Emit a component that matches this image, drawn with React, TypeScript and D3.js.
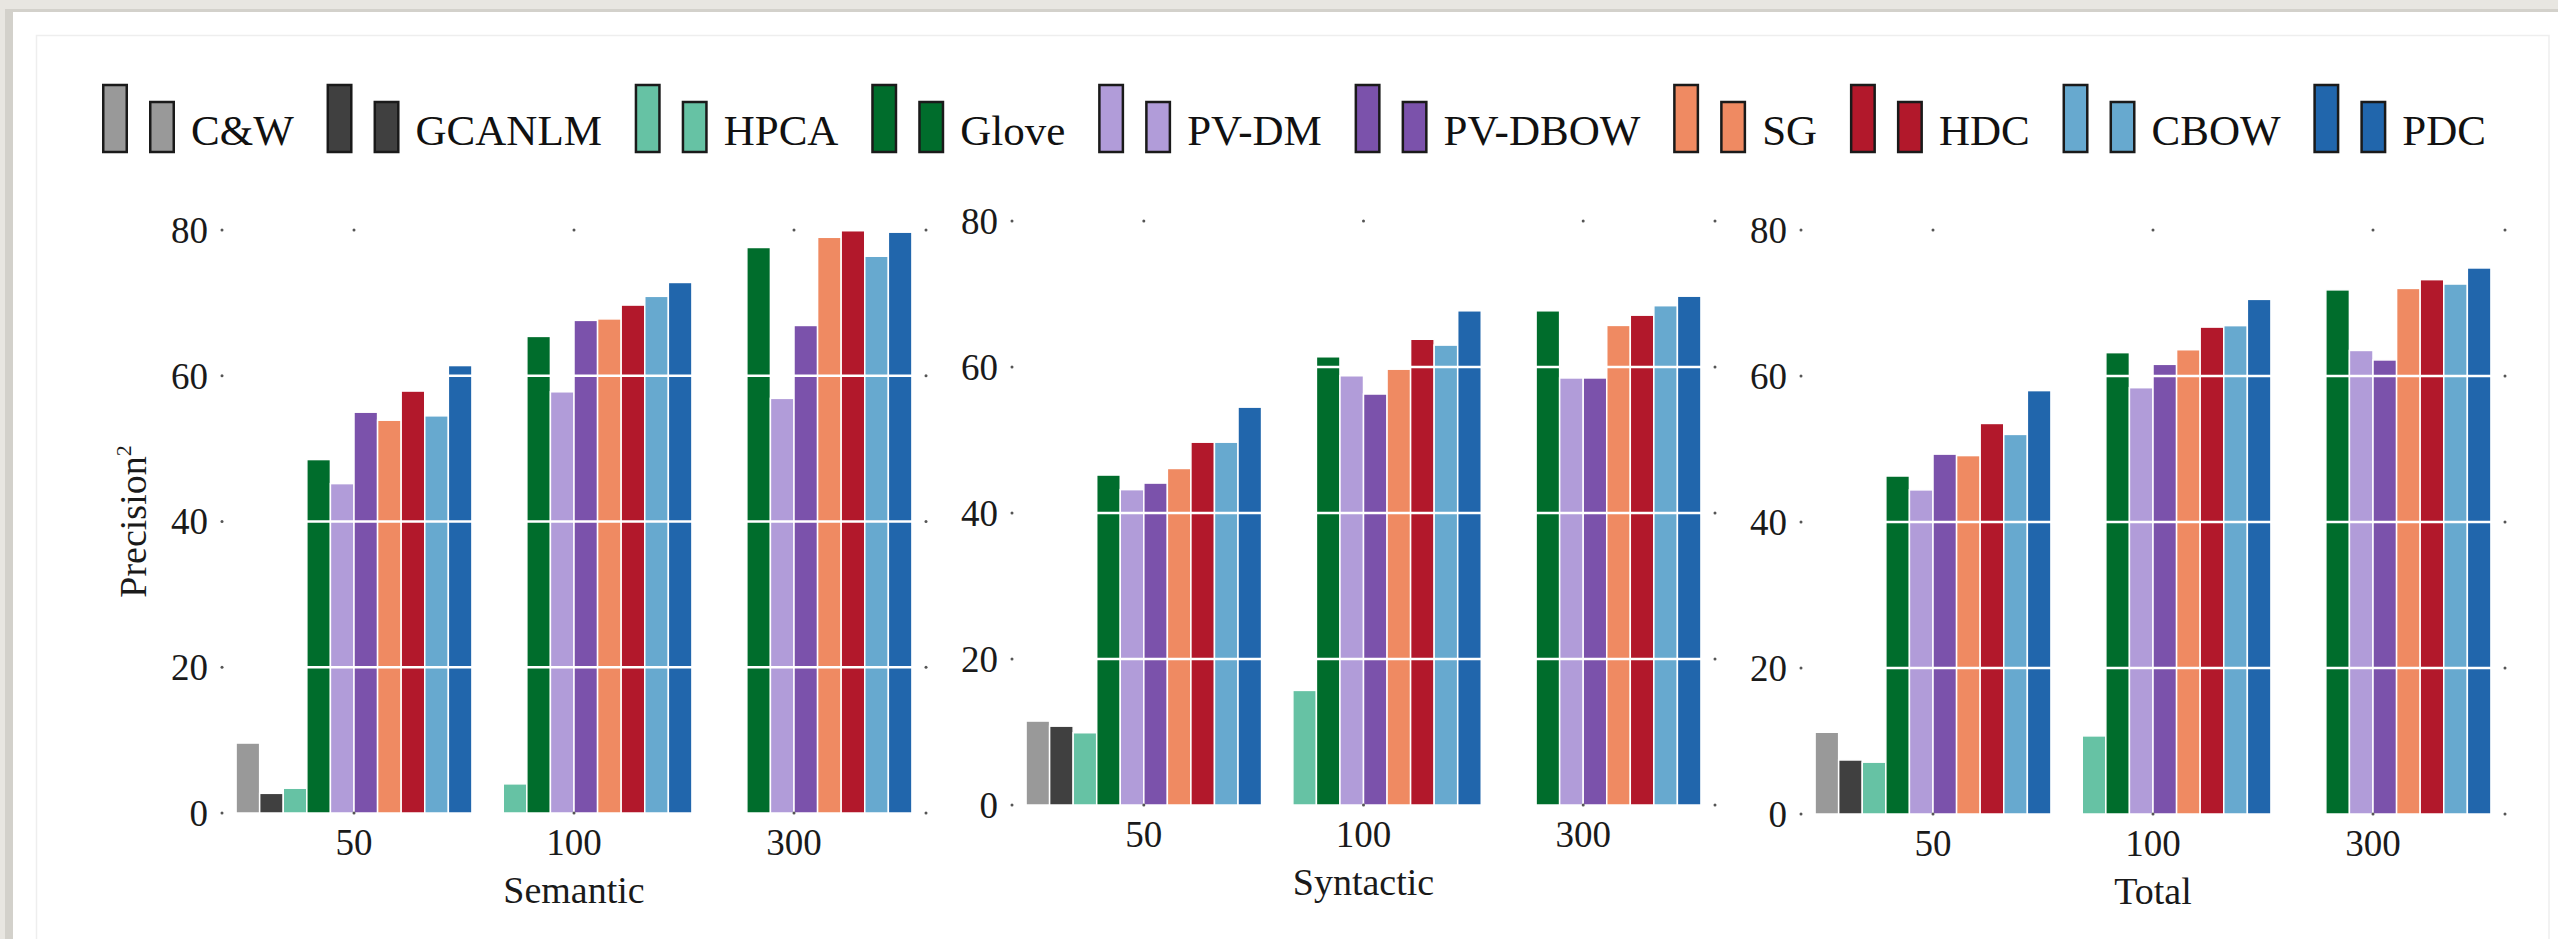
import React, { useEffect, useRef } from 'react'
import * as d3 from 'd3'

const methods = ['C&W', 'GCANLM', 'HPCA', 'Glove', 'PV-DM', 'PV-DBOW', 'SG', 'HDC', 'CBOW', 'PDC']
const methodColors = ['#999999', '#404040', '#66c2a4', '#006d2c', '#b19cd9', '#7b52ab', '#ef8a62', '#b2182b', '#67a9cf', '#2166ac']
const dims = ['50', '100', '300']
const yTicks = [0, 20, 40, 60, 80]
const gridValues = [20, 40, 60]

// null = method has no result for that vector size
const semantic50 = [9.6, 2.7, 3.4, 48.5, 45.2, 55.0, 53.9, 57.9, 54.5, 61.4]
const semantic100 = [null, null, 4.0, 65.4, 57.8, 67.6, 67.8, 69.7, 70.9, 72.8]
const semantic300 = [null, null, null, 77.6, 56.9, 66.9, 79.0, 79.9, 76.4, 79.7]
const syntactic50 = [11.5, 10.8, 9.9, 45.2, 43.2, 44.1, 46.1, 49.7, 49.7, 54.5]
const syntactic100 = [null, null, 15.7, 61.4, 58.8, 56.3, 59.7, 63.8, 63.0, 67.7]
const syntactic300 = [null, null, null, 67.7, 58.5, 58.5, 65.7, 67.1, 68.4, 69.7]
const total50 = [11.2, 7.4, 7.1, 46.3, 44.4, 49.3, 49.1, 53.5, 52.0, 58.0]
const total100 = [null, null, 10.7, 63.2, 58.4, 61.6, 63.6, 66.7, 66.9, 70.5]
const total300 = [null, null, null, 71.8, 63.5, 62.2, 72.0, 73.2, 72.6, 74.8]

const panelTitles = ['Semantic', 'Syntactic', 'Total']
const panelValues = [
  [semantic50, semantic100, semantic300],
  [syntactic50, syntactic100, syntactic300],
  [total50, total100, total300],
]

const W = 2558
const H = 939
const FONT = "'Liberation Serif', 'Times New Roman', serif"

// panel frames (px), the three plots are not quite aligned in the original
const panelLeft = [222, 1012, 1801]
const panelRight = [926, 1715, 2505]
const panelBottom = [813, 805, 814]
const panelTop = [230, 221, 230]

export default function App() {
  const svgRef = useRef<SVGSVGElement>(null)

  useEffect(() => {
    document.body.style.margin = '0'
    const svg = d3.select(svgRef.current)
    svg.selectAll('*').remove()

    // page background and card
    svg.append('rect').attr('width', W).attr('height', H).attr('fill', '#e8e6e1')
    svg.append('rect').attr('x', 5).attr('y', 9).attr('width', W).attr('height', H).attr('fill', '#d3d1cb')
    svg.append('rect').attr('x', 13).attr('y', 12).attr('width', W).attr('height', H).attr('fill', '#fff')
    svg
      .append('rect')
      .attr('x', 36.5)
      .attr('y', 35.5)
      .attr('width', 2549 - 36.5)
      .attr('height', H)
      .attr('fill', 'none')
      .attr('stroke', '#eeeeee')
      .attr('stroke-width', 1.5)

    // legend
    const items = svg
      .append('g')
      .selectAll('g')
      .data(methods)
      .join('g')
    items
      .append('rect')
      .attr('x', 1.25)
      .attr('y', 85)
      .attr('width', 23.5)
      .attr('height', 67)
      .attr('fill', (d, i) => methodColors[i])
      .attr('stroke', '#1a1a1a')
      .attr('stroke-width', 2.5)
    items
      .append('rect')
      .attr('x', 48.25)
      .attr('y', 102)
      .attr('width', 23.5)
      .attr('height', 50)
      .attr('fill', (d, i) => methodColors[i])
      .attr('stroke', '#1a1a1a')
      .attr('stroke-width', 2.5)
    items
      .append('text')
      .attr('x', 89)
      .attr('y', 145)
      .attr('font-family', FONT)
      .attr('font-size', 43)
      .attr('fill', '#111')
      .text((d) => d)

    const widths = items
      .select('text')
      .nodes()
      .map((n: any) => n.getComputedTextLength())
    const legendStart = 102
    const legendEnd = 2486
    const gap = (legendEnd - legendStart - 89 * methods.length - d3.sum(widths)) / (methods.length - 1)
    let lx = legendStart
    items.attr('transform', (d, i) => {
      const t = `translate(${lx},0)`
      lx += 89 + widths[i] + gap
      return t
    })

    panelTitles.forEach((title, p) => {
      const x = d3.scalePoint().domain(dims).range([panelLeft[p], panelRight[p]]).padding(0.6)
      const y = d3.scaleLinear().domain([0, 80]).range([panelBottom[p], panelTop[p]])
      const half = x.step() * 0.536
      const dodge = d3.scaleBand().domain(methods).range([-half, half])
      const g = svg.append('g')

      dims.forEach((dim, j) => {
        const vals = panelValues[p][j]
        const bars = methods
          .map((m, k) => ({ m, k, v: vals[k] }))
          .filter((d) => d.v != null)
        g.append('g')
          .selectAll('rect')
          .data(bars)
          .join('rect')
          .attr('x', (d) => (x(dim) as number) + (dodge(d.m) as number))
          .attr('width', dodge.bandwidth())
          .attr('y', (d) => y(d.v as number))
          .attr('height', (d) => y(0) - y(d.v as number))
          .attr('fill', (d) => methodColors[d.k])
          .attr('stroke', '#fff')
          .attr('stroke-width', 1.5)
      })

      // white grid drawn over the bars
      g.append('g')
        .selectAll('line')
        .data(gridValues)
        .join('line')
        .attr('x1', panelLeft[p])
        .attr('x2', panelRight[p])
        .attr('y1', (d) => y(d))
        .attr('y2', (d) => y(d))
        .attr('stroke', '#fff')
        .attr('stroke-width', 2.5)

      // tiny tick marks on all four sides
      const dots = g.append('g').attr('fill', '#555')
      yTicks.forEach((t) => {
        dots.append('circle').attr('cx', panelLeft[p]).attr('cy', y(t)).attr('r', 1.5)
        dots.append('circle').attr('cx', panelRight[p]).attr('cy', y(t)).attr('r', 1.5)
      })
      dims.forEach((dim) => {
        dots.append('circle').attr('cx', x(dim) as number).attr('cy', y(0)).attr('r', 1.5)
        dots.append('circle').attr('cx', x(dim) as number).attr('cy', y(80)).attr('r', 1.5)
      })

      g.append('g')
        .selectAll('text')
        .data(yTicks)
        .join('text')
        .attr('x', panelLeft[p] - 14)
        .attr('y', (d) => y(d))
        .attr('dy', '0.35em')
        .attr('text-anchor', 'end')
        .attr('font-family', FONT)
        .attr('font-size', 37)
        .attr('fill', '#1a1a1a')
        .text((d) => d)

      g.append('g')
        .selectAll('text')
        .data(dims)
        .join('text')
        .attr('x', (d) => x(d) as number)
        .attr('y', y(0) + 42)
        .attr('text-anchor', 'middle')
        .attr('font-family', FONT)
        .attr('font-size', 37)
        .attr('fill', '#1a1a1a')
        .text((d) => d)

      g.append('text')
        .attr('x', (panelLeft[p] + panelRight[p]) / 2)
        .attr('y', y(0) + 90)
        .attr('text-anchor', 'middle')
        .attr('font-family', FONT)
        .attr('font-size', 38)
        .attr('fill', '#1a1a1a')
        .text(title)

      if (p === 0) {
        const yt = g
          .append('text')
          .attr('transform', `translate(146,${(y(0) + y(80)) / 2}) rotate(-90)`)
          .attr('text-anchor', 'middle')
          .attr('font-family', FONT)
          .attr('font-size', 38)
          .attr('fill', '#1a1a1a')
        yt.append('tspan').text('Precision')
        yt.append('tspan').attr('font-size', 22).attr('dy', -15).text('2')
      }
    })
  }, [])

  return <svg ref={svgRef} width={W} height={H} style={{ display: 'block' }}></svg>
}
